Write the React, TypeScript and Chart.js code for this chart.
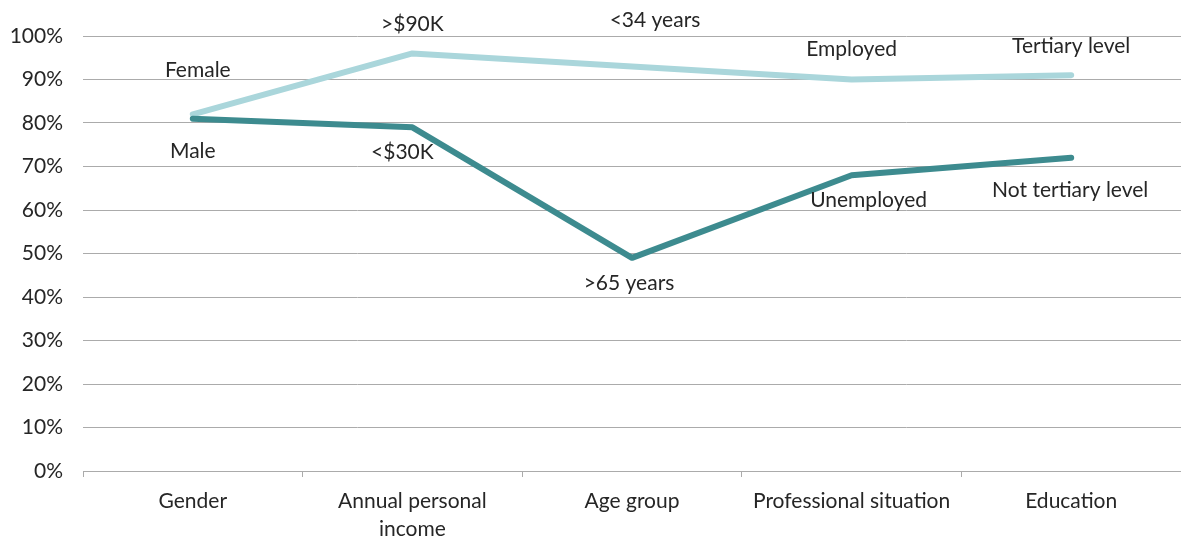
import React, { useEffect, useRef } from "react";
import { Chart, registerables } from "chart.js";

Chart.register(...registerables);

const categories: (string | string[])[] = [
  "Gender",
  ["Annual personal", "income"],
  "Age group",
  "Professional situation",
  "Education",
];
const upperValues = [82, 96, 93, 90, 91];
const lowerValues = [81, 79, 49, 68, 72];
const upperLabels = ["Female", ">$90K", "<34 years", "Employed", "Tertiary level"];
const lowerLabels = ["Male", "<$30K", ">65 years", "Unemployed", "Not tertiary level"];
const yTicks = [0, 10, 20, 30, 40, 50, 60, 70, 80, 90, 100];

// label offsets relative to their point (dx, dy)
const upperOffsets = [[5, -44], [0, -29], [23, -46], [0, -30], [0, -29]];
const lowerOffsets = [[0, 33], [-10, 25], [-3, 25], [17, 25], [-1, 32]];

const FONT = "Lato, 'Open Sans', sans-serif";
const FONT_SIZE = 21;

const labelPlugin = {
  id: "pointLabels",
  afterDatasetsDraw(chart: any) {
    const ctx = chart.ctx;
    ctx.save();
    ctx.font = `${FONT_SIZE}px ${FONT}`;
    ctx.fillStyle = "#262626";
    ctx.textAlign = "center";
    ctx.textBaseline = "middle";
    const sets = [
      { labels: upperLabels, offsets: upperOffsets, idx: 1 },
      { labels: lowerLabels, offsets: lowerOffsets, idx: 0 },
    ];
    sets.forEach((s) => {
      const meta = chart.getDatasetMeta(s.idx);
      meta.data.forEach((pt: any, j: number) => {
        ctx.fillText(s.labels[j], pt.x + s.offsets[j][0], pt.y + s.offsets[j][1]);
      });
    });
    ctx.restore();
  },
};

export default function App() {
  const ref = useRef<HTMLCanvasElement>(null);
  useEffect(() => {
    if (!ref.current) return;
    const chart = new Chart(ref.current, {
      type: "line",
      data: {
        labels: categories,
        datasets: [
          {
            label: "Lower",
            data: lowerValues,
            borderColor: "#3D8B8F",
            borderWidth: 6,
            pointRadius: 0,
            tension: 0,
            borderCapStyle: "round",
            borderJoinStyle: "round",
            fill: false,
          },
          {
            label: "Upper",
            data: upperValues,
            borderColor: "#AAD6DB",
            borderWidth: 6,
            pointRadius: 0,
            tension: 0,
            borderCapStyle: "round",
            borderJoinStyle: "round",
            fill: false,
          },
        ],
      },
      options: {
        animation: false,
        responsive: true,
        maintainAspectRatio: false,
        layout: { padding: { top: 36, right: 0, left: 0, bottom: 0 } },
        plugins: {
          legend: { display: false },
          tooltip: { enabled: false },
        },
        scales: {
          x: {
            offset: true,
            grid: {
              offset: true,
              drawOnChartArea: false,
              drawTicks: true,
              tickLength: 6,
              color: "#ABABAB",
            },
            border: { display: true, color: "#ABABAB", width: 1 },
            ticks: {
              font: { family: FONT, size: FONT_SIZE, lineHeight: 1.35 },
              color: "#262626",
              padding: 10,
              maxRotation: 0,
              autoSkip: false,
            },
            afterFit(scale: any) {
              scale.height = 68;
            },
          },
          y: {
            min: 0,
            max: 100,
            afterBuildTicks(scale: any) {
              scale.ticks = yTicks.map((v) => ({ value: v }));
            },
            grid: { color: "#ABABAB", drawTicks: false, lineWidth: 1 },
            border: { display: false },
            ticks: {
              font: { family: FONT, size: FONT_SIZE },
              color: "#262626",
              padding: 20,
              callback: (v: any) => `${v}%`,
            },
            afterFit(scale: any) {
              scale.width = 83;
            },
          },
        },
      },
      plugins: [labelPlugin],
    });
    return () => chart.destroy();
  }, []);
  return (
    <div style={{ position: "absolute", left: 0, top: 0, width: 1181, height: 539, background: "#fff" }}>
      <canvas ref={ref} />
    </div>
  );
}
